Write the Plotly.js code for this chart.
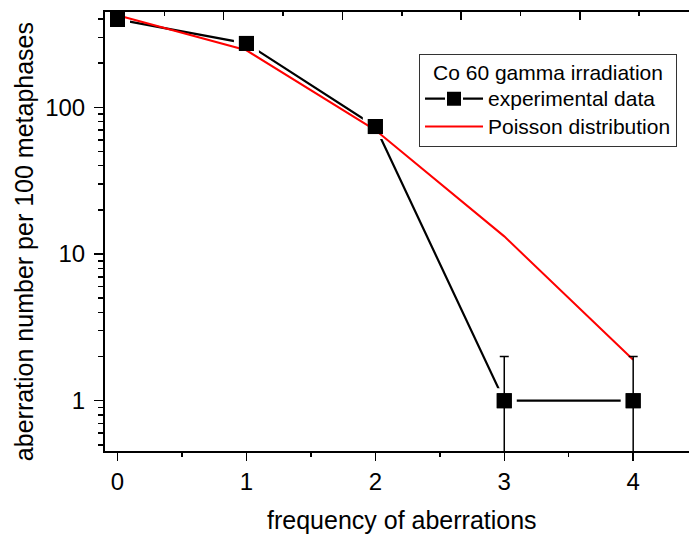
<!DOCTYPE html>
<html>
<head>
<meta charset="utf-8">
<script src="https://cdn.plot.ly/plotly-3.0.1.min.js"></script>
<style>html,body{margin:0;padding:0;background:#fff;overflow:hidden}</style>
</head>
<body>
<div id="chart" style="width:689px;height:536px"></div>
<script>
// data
const frequency = [0, 1, 2, 3, 4];
const experimental = [398, 273, 74, 1, 1];
const experimentalError = [0, 0, 0, 1, 1];
const poisson = [425, 245, 70, 13.2, 1.9];
const xTickVals = [0, 1, 2, 3, 4];
const legendTitle = 'Co 60 gamma irradiation';
const seriesNames = ['experimental data', 'Poisson distribution'];

const FONT = 'Liberation Sans, Arial, sans-serif';
const big = s => '<span style="font-size:21px">' + s + '</span>';

const errBar = {type: 'data', array: experimentalError, visible: true, color: '#000', thickness: 1.5, width: 4.5};

const traces = [
  { // full series (legend entry)
    x: frequency, y: experimental, name: big(seriesNames[0]),
    type: 'scatter', mode: 'lines+markers',
    line: {color: '#000', width: 2.2},
    marker: {symbol: 'square', size: 17, color: '#000', line: {color: '#fff', width: 2}},
    hoverinfo: 'skip'
  },
  { // white halo around markers to create gaps in the connecting line
    x: frequency, y: experimental, showlegend: false,
    type: 'scatter', mode: 'markers',
    marker: {symbol: 'square', size: 20, color: '#000', line: {color: '#fff', width: 5}},
    hoverinfo: 'skip'
  },
  {
    x: frequency, y: poisson, name: big(seriesNames[1]),
    type: 'scatter', mode: 'lines',
    line: {color: '#ff0000', width: 2},
    hoverinfo: 'skip'
  },
  { // error bars and markers on top
    x: frequency, y: experimental, showlegend: false,
    type: 'scatter', mode: 'markers',
    marker: {symbol: 'square', size: 15, color: '#000'},
    error_y: errBar,
    hoverinfo: 'skip'
  },
  {
    x: [0], y: [1], xaxis: 'x2', yaxis: 'y', mode: 'none', type: 'scatter',
    showlegend: false, hoverinfo: 'skip'
  }
];

const layout = {
  width: 689, height: 536,
  margin: {l: 105, r: 0, t: 12, b: 85},
  paper_bgcolor: '#fff', plot_bgcolor: '#fff',
  font: {family: FONT, color: '#000', size: 24},
  showlegend: true,
  xaxis: {
    range: [-0.097, 4.433],
    tickvals: xTickVals,
    ticks: 'outside', ticklen: 8, tickwidth: 1.5, tickcolor: '#000',
    minor: {dtick: 0.5, tick0: 0, ticks: 'outside', ticklen: 4, tickwidth: 1.5, tickcolor: '#000'},
    showline: true, linecolor: '#000', linewidth: 2,
    showgrid: false, zeroline: false,
    tickfont: {size: 24}
  },
  xaxis2: {
    overlaying: 'x', side: 'top', anchor: 'y',
    range: [0, 4.92], dtick: 1, tick0: 0,
    ticks: 'inside', ticklen: 8, tickwidth: 1.5, tickcolor: '#000',
    minor: {dtick: 0.5, tick0: 0, ticks: 'inside', ticklen: 4, tickwidth: 1.5, tickcolor: '#000'},
    showticklabels: false,
    showline: true, linecolor: '#000', linewidth: 2,
    showgrid: false, zeroline: false
  },
  yaxis: {
    type: 'log',
    range: [Math.log10(0.454), Math.log10(447)],
    dtick: 1,
    ticks: 'outside', ticklen: 9, tickwidth: 1.5, tickcolor: '#000',
    minor: {dtick: 'D1', ticks: 'outside', ticklen: 5, tickwidth: 1.5, tickcolor: '#000'},
    showline: true, linecolor: '#000', linewidth: 2,
    showgrid: false, zeroline: false,
    ticklabelstandoff: 4,
    tickfont: {size: 24}
  },
  legend: {
    x: 0.5377, y: 0.904, xanchor: 'left', yanchor: 'top',
    bordercolor: '#333', borderwidth: 1, bgcolor: '#fff',
    font: {size: 19, family: FONT},
    title: {text: big(legendTitle), font: {size: 19, family: FONT}, side: 'top center'},
    itemwidth: 58
  },
  annotations: [
    {text: 'frequency of aberrations', xref: 'paper', yref: 'paper', x: 0.508, y: -0.157,
     xanchor: 'center', yanchor: 'middle', showarrow: false, font: {size: 25, family: FONT}},
    {text: 'aberration number per 100 metaphases', xref: 'paper', yref: 'paper', x: -0.1387, y: 0.478,
     xanchor: 'center', yanchor: 'middle', textangle: -90, showarrow: false, font: {size: 25, family: FONT}}
  ]
};

Plotly.newPlot('chart', traces, layout, {displayModeBar: false, staticPlot: true});
</script>
</body>
</html>
